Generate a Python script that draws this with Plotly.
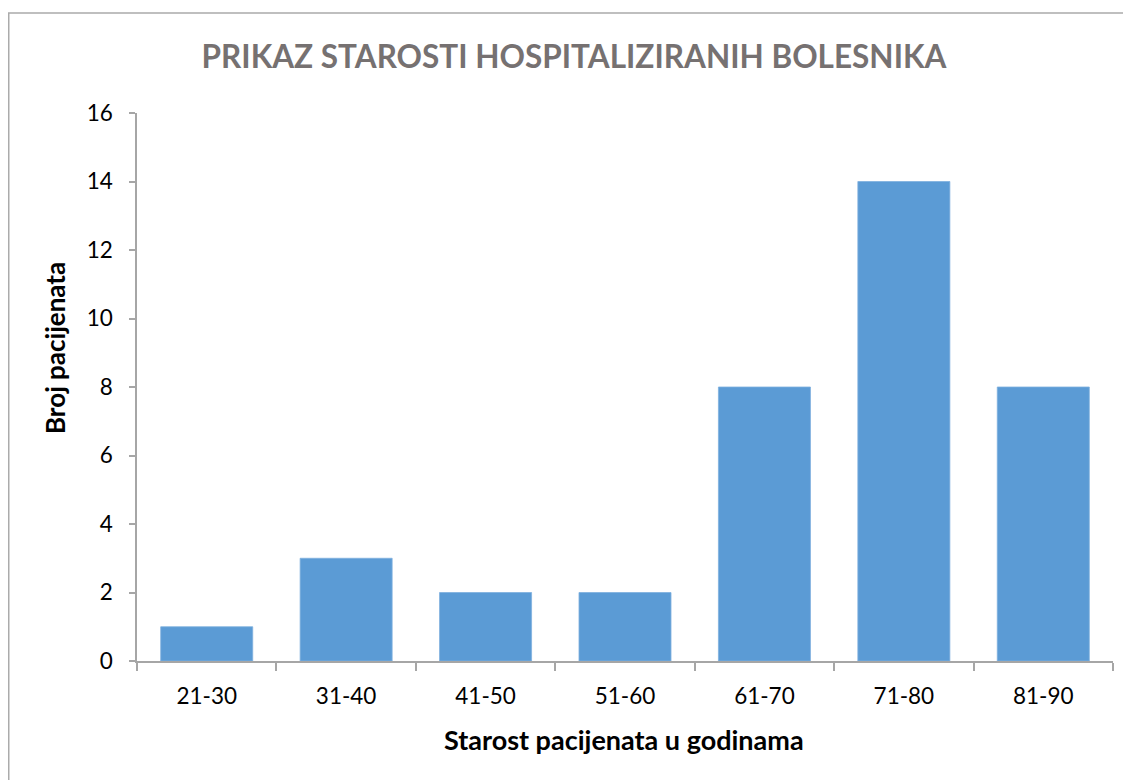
import plotly.graph_objects as go

categories = ["21-30", "31-40", "41-50", "51-60", "61-70", "71-80", "81-90"]
counts = [1, 3, 2, 2, 8, 14, 8]
y_ticks = [0, 2, 4, 6, 8, 10, 12, 14, 16]

title_text = "PRIKAZ STAROSTI HOSPITALIZIRANIH BOLESNIKA"
x_title = "Starost pacijenata u godinama"
y_title = "Broj pacijenata"

# the page body adds an 8px offset; work in screen pixels and subtract it
OFF = 8
W, H = 1131 - OFF, 780 - OFF
L, R, T, B = 137 - OFF, 18, 113 - OFF, 119
pw, ph = W - L - R, H - T - B


def px(xs):
    return (xs - OFF - L) / pw


def py(ys):
    return (H - B - (ys - OFF)) / ph


fig = go.Figure(go.Bar(
    x=categories, y=counts,
    marker=dict(color="#5B9BD5", line=dict(color="#7FB0DE", width=0.8)),
    width=0.66,
))

axis_col = "#A6A6A6"
fig.update_layout(
    width=W, height=H,
    margin=dict(l=L, r=R, t=T, b=B),
    paper_bgcolor="white", plot_bgcolor="white",
    showlegend=False,
    font=dict(family="Lato", color="black", size=22),
    title=dict(text=title_text, x=(574 - OFF) / W, xanchor="center",
               y=1 - (57 - OFF) / H, yanchor="middle",
               font=dict(family="Lato", size=31.5, color="#767171", weight="bold")),
)
fig.update_xaxes(
    type="category", showgrid=False, showline=True, linecolor=axis_col, linewidth=1.5,
    ticks="outside", tickson="boundaries", ticklen=8, tickcolor=axis_col, tickwidth=1.5,
    tickfont=dict(size=22.5, family="Lato"), ticklabelstandoff=14,
)
fig.update_yaxes(
    range=[0, 16], tickvals=y_ticks, showgrid=False, showline=True, linecolor=axis_col,
    linewidth=1.5, ticks="outside", ticklen=6, tickcolor=axis_col, tickwidth=1.5,
    tickfont=dict(size=22.5, family="Lato"), ticklabelstandoff=12, zeroline=False,
)

fig.add_annotation(text="<b>" + x_title + "</b>", xref="paper", yref="paper",
                   x=px(624), y=py(739), xanchor="center", yanchor="middle",
                   showarrow=False, font=dict(size=27, family="Lato", color="black"))
fig.add_annotation(text="<b>" + y_title + "</b>", xref="paper", yref="paper",
                   x=px(55), y=py(348), xanchor="center", yanchor="middle",
                   textangle=-90, showarrow=False, font=dict(size=26, family="Lato", color="black"))

# chart frame (top and left edges visible)
fig.add_shape(type="path", xref="paper", yref="paper",
              path=f"M {px(8.75)} {py(800)} L {px(8.75)} {py(13)} L {px(1160)} {py(13)}",
              line=dict(color="#ABABAB", width=1.5), layer="below")

fig.write_html("out.html")
